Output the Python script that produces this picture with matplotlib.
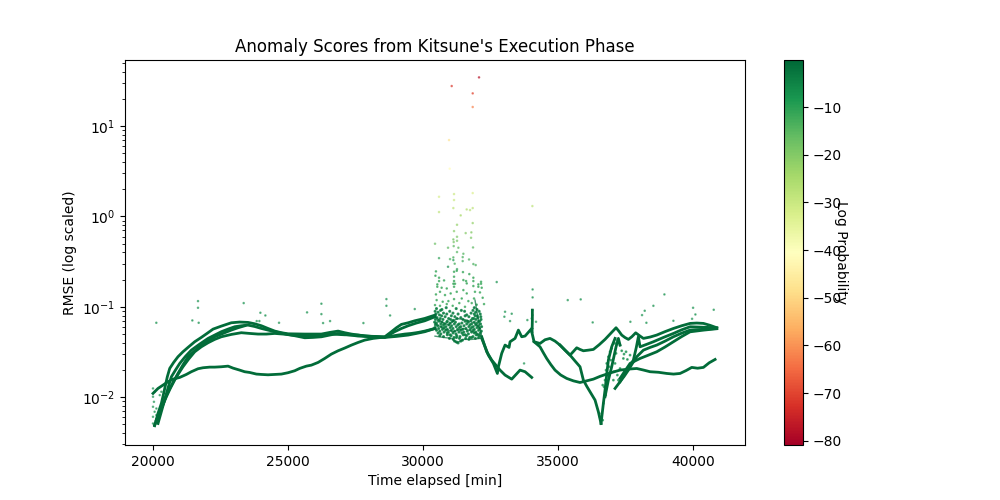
import numpy as np
import matplotlib
matplotlib.use("Agg")
import matplotlib.pyplot as plt

# time in minutes, RMSE as log10
low_x = [20000, 20185, 20555, 20740, 20990, 21235, 21420, 21667, 21850, 22100, 22285, 22530, 22780, 22965, 23210, 23395, 23580, 23830, 24015, 24260, 24510, 24755, 25000, 25250, 25435, 25680, 25865, 26115, 26360, 26605, 26855, 27100, 27350, 27595, 27840, 28150, 28460, 28770, 29075, 29325, 29570, 29820, 30065, 30445]
low_y = [-1.959, -1.904, -1.830, -1.801, -1.782, -1.749, -1.719, -1.686, -1.675, -1.668, -1.668, -1.664, -1.657, -1.679, -1.701, -1.719, -1.727, -1.745, -1.749, -1.753, -1.749, -1.745, -1.730, -1.708, -1.682, -1.657, -1.646, -1.616, -1.572, -1.524, -1.487, -1.457, -1.424, -1.395, -1.369, -1.350, -1.339, -1.328, -1.313, -1.302, -1.295, -1.284, -1.269, -1.240]

top_x = [20060, 20185, 20310, 20408, 20530, 20620, 20765, 20925, 21110, 21295, 21545, 21790, 22000, 22225, 22530, 22900, 23210, 23520, 23765, 24015, 24260, 24510, 24755, 25000, 25620, 26235, 26545, 26855, 27100, 27350, 27840, 28215, 28585, 28830, 29015, 29200, 29450, 29695, 30065, 30445]
top_y = [-2.317, -2.181, -2.070, -1.941, -1.775, -1.682, -1.616, -1.553, -1.498, -1.450, -1.387, -1.339, -1.295, -1.247, -1.214, -1.177, -1.169, -1.173, -1.188, -1.210, -1.240, -1.269, -1.287, -1.299, -1.302, -1.302, -1.284, -1.269, -1.287, -1.302, -1.324, -1.328, -1.332, -1.276, -1.232, -1.195, -1.177, -1.155, -1.129, -1.092]

second_x = [20185, 20310, 20430, 20555, 20680, 20840, 20990, 21200, 21420, 21730, 22040, 22285, 22530, 22780, 23025, 23270, 23520, 23765, 24015, 24260, 24510, 24755, 25000, 25310, 25620, 25930, 26240, 26545, 26850, 27225, 27595, 28090, 28585, 28950, 29200, 29450, 29755, 30065, 30445]
second_y = [-2.292, -2.160, -2.033, -1.900, -1.775, -1.697, -1.627, -1.550, -1.480, -1.413, -1.350, -1.313, -1.276, -1.247, -1.221, -1.210, -1.203, -1.218, -1.240, -1.258, -1.276, -1.291, -1.306, -1.324, -1.343, -1.339, -1.332, -1.313, -1.295, -1.310, -1.324, -1.332, -1.339, -1.276, -1.240, -1.210, -1.180, -1.155, -1.110]

third_x = [20060, 20185, 20310, 20430, 20555, 20740, 20925, 21110, 21300, 21545, 21790, 22040, 22285, 22590, 22900, 23150, 23400]
third_y = [-2.310, -2.218, -2.126, -2.033, -1.941, -1.838, -1.738, -1.643, -1.553, -1.487, -1.424, -1.376, -1.332, -1.295, -1.258, -1.232, -1.210]

fourth_x = [20125, 20310, 20495, 20640, 20800, 20950, 21110, 21320, 21545, 21790, 22040, 22285, 22530, 22900, 23270, 23580, 23890, 24200, 24510, 24815, 25125, 25495, 25865, 26235, 26605, 27100, 27595, 28090, 28585, 29015, 29450, 29755, 30065, 30445]
fourth_y = [-2.255, -2.126, -1.996, -1.904, -1.812, -1.738, -1.664, -1.579, -1.498, -1.443, -1.398, -1.361, -1.332, -1.306, -1.287, -1.295, -1.302, -1.302, -1.295, -1.302, -1.313, -1.321, -1.324, -1.313, -1.302, -1.310, -1.313, -1.328, -1.339, -1.328, -1.313, -1.295, -1.276, -1.240]

burst_low_x = [30445, 30754, 31063, 31248, 31495, 31804, 32113]
burst_low_y = [-1.325, -1.339, -1.350, -1.398, -1.361, -1.361, -1.350]
burst_mid_x = [30445, 30754, 31124, 31495, 31866, 32137]
burst_mid_y = [-1.184, -1.240, -1.276, -1.240, -1.276, -1.313]
burst_up_x = [30445, 30692, 30939, 31248, 31618, 31927, 32113]
burst_up_y = [-1.110, -1.166, -1.203, -1.129, -1.147, -1.184, -1.240]
burst_right_x = [31927, 31989, 32050, 32175]
burst_right_y = [-0.926, -1.037, -1.147, -1.332]

fall_x = [32175, 32421, 32606, 32755, 32792, 32915, 33039, 33187, 33224, 33409, 33533, 33656, 33780, 34027]
fall_y = [-1.350, -1.535, -1.627, -1.738, -1.664, -1.516, -1.424, -1.450, -1.387, -1.350, -1.258, -1.332, -1.324, -1.240]

tail_x = [32175, 32360, 32545, 32853, 33039, 33286, 33595, 33780, 34027]
tail_y = [-1.332, -1.498, -1.590, -1.701, -1.756, -1.801, -1.701, -1.719, -1.782]

spike_x = [34050, 34050, 34040]
spike_y = [-1.037, -1.147, -1.276]

dip_x = [34027, 34113, 34334, 34520, 34705, 34890, 35075, 35260, 35446, 35630, 35816, 35940, 36065, 36187, 36372, 36495, 36594]
dip_y = [-1.276, -1.387, -1.406, -1.365, -1.350, -1.380, -1.424, -1.480, -1.535, -1.600, -1.664, -1.812, -1.880, -1.941, -2.033, -2.162, -2.292]

flat_x = [34113, 34334, 34460, 34581, 34735, 34890, 35100, 35322, 35570, 35816, 36060, 36310, 36560, 36804, 37050, 37298, 37600, 37916, 38160, 38410, 38720, 39027, 39280, 39521, 39750, 39953, 40170, 40386, 40600, 40818]
flat_y = [-1.387, -1.443, -1.510, -1.572, -1.640, -1.701, -1.755, -1.793, -1.820, -1.838, -1.820, -1.801, -1.770, -1.745, -1.722, -1.701, -1.690, -1.683, -1.700, -1.719, -1.725, -1.738, -1.745, -1.738, -1.705, -1.671, -1.680, -1.671, -1.620, -1.583]

ridge_x = [35075, 35260, 35446, 35570, 35693, 35815, 35940, 36125, 36310, 36525, 36742, 36950, 37150, 37255, 37360, 37480, 37607, 37740, 37878, 38020, 38163, 38410, 38657, 38965, 39274, 39580, 39892, 40140, 40386, 40630, 40880]
ridge_y = [-1.424, -1.480, -1.535, -1.495, -1.454, -1.472, -1.487, -1.480, -1.472, -1.420, -1.361, -1.295, -1.232, -1.270, -1.313, -1.340, -1.361, -1.330, -1.288, -1.320, -1.350, -1.335, -1.313, -1.275, -1.240, -1.210, -1.184, -1.180, -1.184, -1.205, -1.232]

rise1_x = [36594, 36680, 36742, 36804, 36866, 36989, 37113]
rise1_y = [-2.292, -2.070, -1.922, -1.750, -1.590, -1.443, -1.350]
rise2_x = [36742, 36866, 36989, 37150, 37236, 37298]
rise2_y = [-1.996, -1.812, -1.664, -1.443, -1.350, -1.424]
rise3_x = [37113, 37298, 37450, 37607, 37760, 37916, 38163, 38410, 38657, 38965, 39274, 39580, 39892, 40880]
rise3_y = [-1.904, -1.830, -1.770, -1.701, -1.625, -1.553, -1.480, -1.450, -1.424, -1.380, -1.332, -1.292, -1.258, -1.240]
rise4_x = [37298, 37480, 37669, 37850, 38039, 38350, 38657, 38965, 39274, 39580, 39892, 40400, 40880]
rise4_y = [-1.793, -1.710, -1.627, -1.600, -1.572, -1.535, -1.498, -1.445, -1.387, -1.330, -1.277, -1.258, -1.243]
rise5_x = [37298, 37540, 37792, 37900, 37977, 38039, 38290, 38533, 38900, 39274, 39580, 39892, 40880]
rise5_y = [-1.830, -1.710, -1.590, -1.450, -1.332, -1.443, -1.415, -1.387, -1.340, -1.295, -1.255, -1.221, -1.232]

curves = [(low_x, low_y), (top_x, top_y), (second_x, second_y), (third_x, third_y),
          (fourth_x, fourth_y), (fall_x, fall_y), (tail_x, tail_y), (spike_x, spike_y),
          (dip_x, dip_y), (flat_x, flat_y), (ridge_x, ridge_y), (rise1_x, rise1_y),
          (rise2_x, rise2_y), (rise3_x, rise3_y), (rise4_x, rise4_y), (rise5_x, rise5_y)]
burst_curves = [(burst_low_x, burst_low_y), (burst_mid_x, burst_mid_y),
                (burst_up_x, burst_up_y), (burst_right_x, burst_right_y)]

# single dots away from the bands
stray_x = [20123, 21457, 21692, 21667, 21667, 23359, 23977, 24162, 23841, 23940, 24668, 25706, 26237, 26237, 26299, 26558, 27793, 28645, 28645, 28781, 29695,
           32730, 33039, 33286, 33014, 33224, 33743, 35361, 35841, 36285, 37681, 38113, 38212, 38274, 38533, 38941, 39274, 39966, 40003, 40089, 40768,
           34050, 34050, 34027, 33865, 34186, 34060, 34060,
           20000, 20060, 20000, 20035, 20000, 20125, 20060, 20000, 20125, 20185, 20000, 20408, 20457, 20250, 20310]
stray_y = [-1.177, -1.151, -1.177, -0.937, -1.011, -0.959, -1.066, -1.096, -1.158, -1.158, -1.177, -1.062, -0.966, -1.081, -1.180, -1.158, -1.180, -0.915, -0.989, -1.096, -1.025,
           -0.726, -1.055, -1.077, -1.110, -1.158, -1.627, -0.926, -0.918, -1.173, -1.166, -1.092, -1.044, -1.177, -0.989, -0.863, -1.155, -1.133, -1.011, -1.085, -1.033,
           -1.037, -1.092, -1.129, -1.147, -1.166, -0.896, -0.808,
           -1.904, -1.941, -1.996, -2.052, -2.107, -2.126, -2.162, -2.218, -2.199, -2.218, -2.292, -1.941, -1.996, -1.978, -1.941]
stray_prob = -7

# loose dots around the valley at 36500-37700
valley_x = [36866, 36928, 36804, 36903, 36779, 36952, 36989, 36866, 36742, 36656, 36705, 36767, 36680, 36619, 36557, 36656, 37113, 37199, 37298, 37150, 37113, 37076, 37051, 37199, 37360, 37446, 37520, 37421, 37570, 37669, 37298, 37236]
valley_y = [-1.553, -1.498, -1.627, -1.664, -1.701, -1.590, -1.461, -1.756, -1.812, -1.867, -1.886, -1.978, -2.070, -2.181, -2.218, -2.255, -1.406, -1.369, -1.424, -1.516, -1.627, -1.719, -1.812, -1.756, -1.487, -1.524, -1.498, -1.572, -1.583, -1.535, -1.683, -1.812]
valley_prob = -7

# upper part of the burst, log probability drops with height
high_x = [32075, 31063, 31841, 31841, 30964, 30989, 30593, 31149, 31841, 31149, 30593, 31124, 31618, 31742, 31841, 31396, 34051, 31260, 31841, 31149, 31791, 31581, 31260, 31779, 31124, 31260, 31137, 30445, 30927, 31137, 31310, 31853, 31260, 31495, 30593, 31001, 31124, 31124, 31470, 31705, 31174, 31470, 31952, 31865, 30927, 31260]
high_y = [1.540, 1.444, 1.363, 1.212, 0.846, 0.529, 0.218, 0.248, 0.259, 0.182, 0.049, 0.093, 0.078, 0.071, 0.093, 0.012, 0.115, -0.092, -0.073, -0.162, -0.176, -0.184, -0.225, -0.236, -0.254, -0.269, -0.283, -0.302, -0.346, -0.328, -0.346, -0.343, -0.394, -0.413, -0.461, -0.472, -0.453, -0.483, -0.450, -0.476, -0.523, -0.494, -0.538, -0.527, -0.557, -0.583]
high_prob = [-78, -72, -70, -62, -48, -41, -32, -30, -33, -30, -28, -28, -27, -27, -28, -25, -28, -22, -22, -20, -20, -20, -19, -19, -18, -18, -18, -17, -15, -15, -15, -15, -14, -14, -10, -13, -13, -8, -13, -13, -13, -12, -13, -13, -6, -10]

# sparse middle of the burst
mid_x = [31250, 31150, 31480, 30480, 30460, 31150, 31715, 31865, 30595, 30595, 30780, 31150, 31495, 31595, 31865, 32150, 30530, 31125, 31185, 31620, 32050, 32150,
         30530, 30690, 30880, 31150, 31495, 31865, 32050, 32175, 30480, 30630, 30815, 31025, 31250, 31620, 31925, 32110, 30505, 30730, 30940, 31150, 31435, 31680, 31890, 32210,
         30445, 30630, 30880, 31100, 31345, 31555, 31805, 31990, 32260]
mid_y = [-0.601, -0.612, -0.616, -0.608, -0.656, -0.667, -0.638, -0.678, -0.678, -0.715, -0.708, -0.715, -0.704, -0.715, -0.715, -0.723, -0.752, -0.745, -0.745, -0.741, -0.752, -0.745,
         -0.778, -0.789, -0.797, -0.778, -0.815, -0.770, -0.778, -0.789, -0.863, -0.834, -0.870, -0.852, -0.834, -0.852, -0.834, -0.841, -0.926, -0.944, -0.937, -0.915, -0.908, -0.937, -0.908, -0.900,
         -0.981, -0.989, -0.970, -0.989, -0.959, -1.000, -0.959, -0.977, -0.970]
mid_prob = -11

# dense lower part of the burst, picked dot by dot
dense_x = [30500, 30700, 30860, 31230, 31420, 31900, 32000, 30450, 30560, 30650, 30990, 31110, 31540, 31850, 31950, 32080,
           30480, 30610, 30760, 30880, 31050, 31300, 31620, 31780, 31900, 32010, 32120, 30430, 30520, 30690, 30820, 30950, 31180, 31400, 31560, 31700, 31830, 31930, 32030, 32140,
           30460, 30560, 30640, 30740, 30900, 31020, 31120, 31260, 31480, 31640, 31780, 31880, 31960, 32060, 32150,
           30430, 30500, 30600, 30700, 30800, 30880, 31000, 31090, 31200, 31340, 31440, 31560, 31680, 31800, 31900, 32000, 32100,
           30460, 30540, 30660, 30760, 30850, 30960, 31060, 31160, 31290, 31400, 31520, 31620, 31740, 31860, 31950, 32040, 32130,
           30440, 30580, 30680, 30780, 30900, 31010, 31110, 31230, 31350, 31470, 31590, 31700, 31800, 31900, 32000, 32090, 32170,
           30500, 30620, 30720, 30840, 30940, 31050, 31170, 31280, 31400, 31510, 31640, 31750, 31860, 31960, 32060, 32160,
           30560, 30660, 30780, 30900, 31000, 31110, 31220, 31330, 31440, 31560, 31680, 31800, 31900, 32020, 32120,
           30620, 30760, 30900, 31040, 31150, 31250, 31370, 31490, 31610, 31730, 31850, 31970, 32090,
           30980, 31120, 31240, 31350, 31460, 31580, 31700, 31800, 31940, 32060, 31170, 31240, 31300, 31400]
dense_y = [-1.02, -1.03, -1.01, -1.02, -1.04, -1.01, -1.03, -1.05, -1.06, -1.04, -1.05, -1.07, -1.05, -1.04, -1.06, -1.05,
           -1.08, -1.09, -1.07, -1.08, -1.10, -1.08, -1.09, -1.07, -1.08, -1.10, -1.08, -1.11, -1.12, -1.10, -1.11, -1.13, -1.11, -1.12, -1.10, -1.11, -1.13, -1.10, -1.12, -1.11,
           -1.14, -1.15, -1.13, -1.14, -1.16, -1.14, -1.15, -1.13, -1.14, -1.16, -1.15, -1.13, -1.14, -1.16, -1.14,
           -1.17, -1.18, -1.16, -1.17, -1.19, -1.17, -1.18, -1.16, -1.17, -1.19, -1.18, -1.16, -1.17, -1.19, -1.17, -1.18, -1.16,
           -1.20, -1.21, -1.19, -1.20, -1.22, -1.20, -1.21, -1.19, -1.20, -1.22, -1.21, -1.19, -1.20, -1.22, -1.20, -1.21, -1.19,
           -1.23, -1.24, -1.22, -1.23, -1.25, -1.23, -1.24, -1.22, -1.23, -1.25, -1.24, -1.22, -1.23, -1.25, -1.23, -1.24, -1.22,
           -1.26, -1.27, -1.25, -1.26, -1.28, -1.26, -1.27, -1.25, -1.26, -1.28, -1.27, -1.25, -1.26, -1.28, -1.26, -1.27,
           -1.29, -1.30, -1.28, -1.29, -1.31, -1.29, -1.30, -1.28, -1.29, -1.31, -1.30, -1.28, -1.29, -1.31, -1.29,
           -1.32, -1.33, -1.31, -1.32, -1.34, -1.32, -1.33, -1.31, -1.32, -1.34, -1.33, -1.31, -1.32,
           -1.35, -1.36, -1.34, -1.35, -1.37, -1.35, -1.36, -1.34, -1.35, -1.34, -1.38, -1.39, -1.40, -1.38]
dense_prob = -4
band_prob = -1

cmap = plt.get_cmap("RdYlGn")
norm = plt.Normalize(-80.9, -0.1)
band_color = cmap(norm(band_prob))

plt.figure(figsize=(10, 5))
for cx, cy in curves:
    plt.plot(cx, 10 ** np.array(cy), color=band_color, lw=2, solid_joinstyle="round", zorder=2)
for cx, cy in burst_curves:
    plt.plot(cx, 10 ** np.array(cy), color=band_color, lw=1, alpha=0.7, zorder=2)

plt.scatter(high_x, 10 ** np.array(high_y), s=0.7, c=high_prob, cmap=cmap, norm=norm, alpha=0.6)
plt.scatter(mid_x, 10 ** np.array(mid_y), s=0.7, c=[mid_prob] * len(mid_x), cmap=cmap, norm=norm, alpha=0.7)
plt.scatter(dense_x, 10 ** np.array(dense_y), s=1.5, c=[dense_prob] * len(dense_x), cmap=cmap, norm=norm, alpha=0.8)
plt.scatter(stray_x, 10 ** np.array(stray_y), s=0.7, c=[stray_prob] * len(stray_x), cmap=cmap, norm=norm, alpha=0.6)
plt.scatter(valley_x, 10 ** np.array(valley_y), s=1, c=[valley_prob] * len(valley_x), cmap=cmap, norm=norm, alpha=0.7)

plt.yscale("log")
plt.xlim(18963, 41926)
plt.ylim(0.00295, 54)
plt.title("Anomaly Scores from Kitsune's Execution Phase")
plt.ylabel("RMSE (log scaled)")
plt.xlabel("Time elapsed [min]")
figbar = plt.colorbar(plt.cm.ScalarMappable(norm=norm, cmap=cmap), ax=plt.gca())
figbar.ax.set_ylabel("Log Probability\n ", rotation=270)
plt.savefig("out.png")
